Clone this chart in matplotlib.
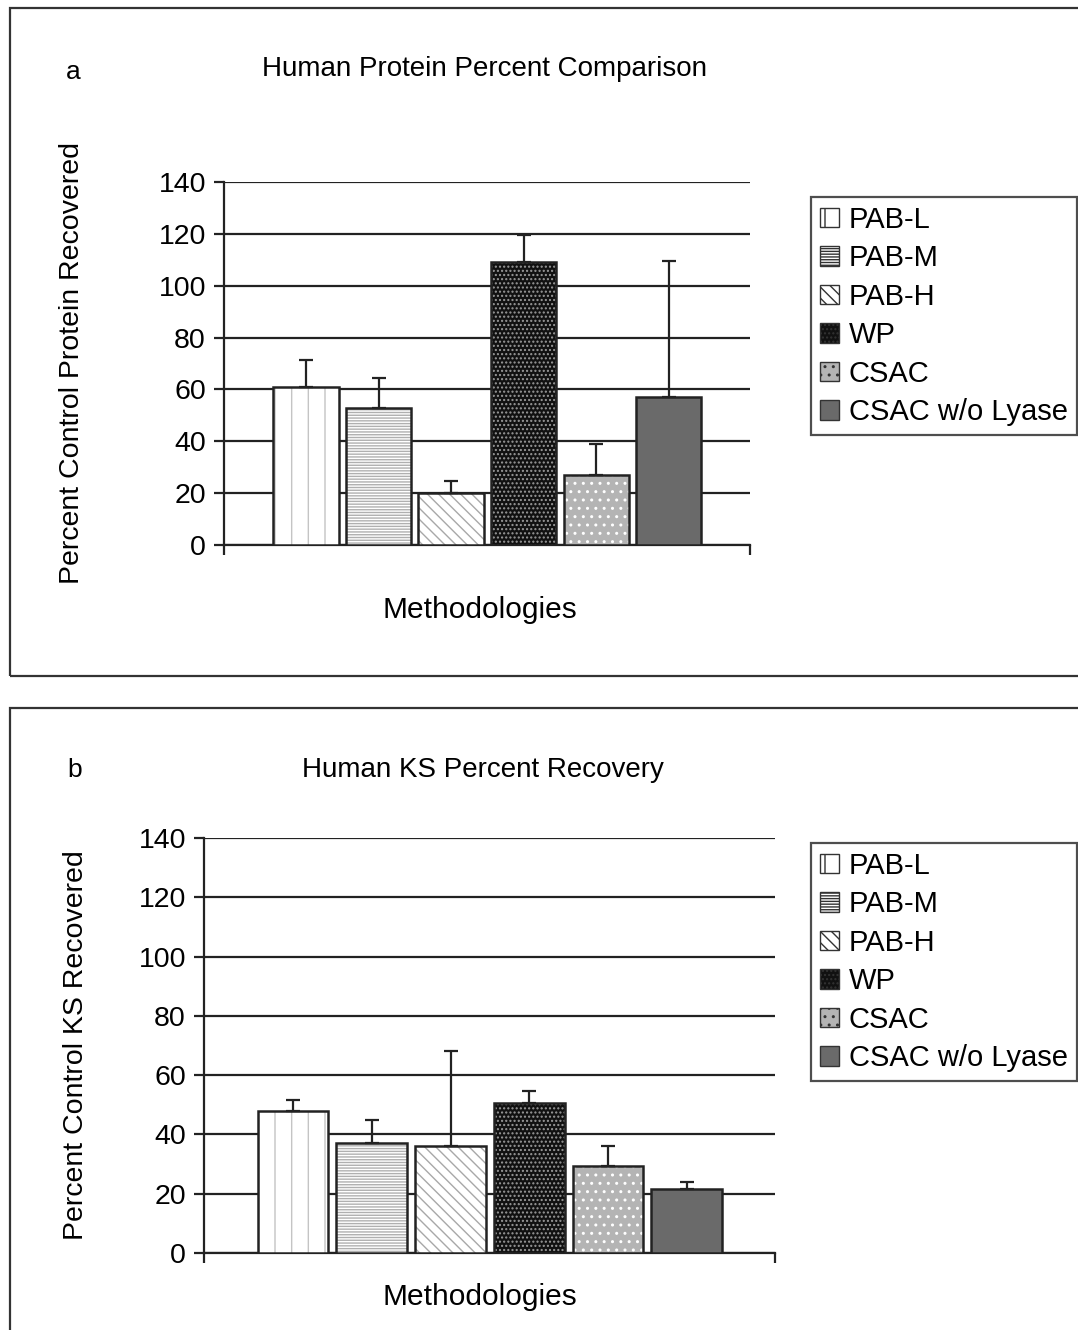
import matplotlib.pyplot as plt
from matplotlib.patches import Patch, Rectangle

plt.rcParams['font.family'] = ['Liberation Sans', 'DejaVu Sans']

# data
methods = ['PAB-L', 'PAB-M', 'PAB-H', 'WP', 'CSAC', 'CSAC w/o Lyase']
protein_pct = [61, 53, 20, 109, 27, 57]
protein_err = [10.5, 11.5, 4.5, 10.5, 12, 52.5]
ks_pct = [48, 37, 36, 50.5, 29.5, 21.5]
ks_err = [3.5, 8, 32, 4, 6.5, 2.5]

# fill colour, hatch, hatch colour per method
faces = ['white', 'white', 'white', '#111111', '#b4b4b4', '#6a6a6a']
hatches = ['|', '------', '\\\\\\', '....', '..', '']
hatch_cols = ['#c4c4c4', '#b0b0b0', '#a8a8a8', '#9a9a9a', 'white', '#6a6a6a']

W, H = 1078, 1330
fig = plt.figure(figsize=(W / 100, H / 100), dpi=100)


def box(x0, y0, x1, y1):
    return [x0 / W, 1 - y1 / H, (x1 - x0) / W, (y1 - y0) / H]


def panel(rect, vals, errs, title, ylabel, letter, title_xy, letter_xy, ylab_xy, xlab_xy, leg_xy):
    ax = fig.add_axes(box(*rect))
    x = list(range(len(vals)))
    # hatch layer then outline layer
    ax.bar(x, vals, width=0.9, color=faces, hatch=hatches, edgecolor=hatch_cols,
           linewidth=0, zorder=3)
    ax.bar(x, vals, width=0.9, fill=False, edgecolor='#222222', linewidth=1.8, zorder=4)
    ax.errorbar(x, vals, yerr=[[0] * len(vals), errs], fmt='none', ecolor='#222222',
                elinewidth=1.6, capsize=5, capthick=1.6, zorder=5)
    ax.set_ylim(0, 140)
    ax.set_xlim(-1.13, 6.12)
    ax.set_yticks(range(0, 141, 20))
    ax.yaxis.grid(True, color='#222222', linewidth=1.6, zorder=1)
    ax.set_axisbelow(True)
    for s in ['top', 'right']:
        ax.spines[s].set_visible(False)
    for s in ['left', 'bottom']:
        ax.spines[s].set_linewidth(1.6)
        ax.spines[s].set_color('#222222')
    ax.set_xticks([-1.13, 6.12])
    ax.set_xticklabels(['', ''])
    ax.tick_params(axis='both', length=7, width=1.6, color='#222222', labelsize=20.5)
    ax.tick_params(axis='y', pad=6)

    fig.text(title_xy[0] / W, 1 - title_xy[1] / H, title, fontsize=20,
             ha='center', va='center')
    fig.text(letter_xy[0] / W, 1 - letter_xy[1] / H, letter, fontsize=19,
             ha='center', va='center')
    fig.text(ylab_xy[0] / W, 1 - ylab_xy[1] / H, ylabel, fontsize=20.5,
             ha='center', va='center', rotation=90)
    fig.text(xlab_xy[0] / W, 1 - xlab_xy[1] / H, 'Methodologies', fontsize=21.5,
             ha='center', va='center')

    handles = [Patch(facecolor=f, hatch=h, edgecolor='#333333', linewidth=1)
               for f, h in zip(faces, hatches)]
    leg = fig.legend(handles, methods, loc='upper left',
                     bbox_to_anchor=(leg_xy[0] / W, 1 - leg_xy[1] / H),
                     fontsize=21, frameon=True, fancybox=False, handlelength=0.65,
                     handleheight=0.65, handletextpad=0.35, labelspacing=0.36,
                     borderpad=0.3, borderaxespad=0)
    leg.get_frame().set_edgecolor('#222222')
    leg.get_frame().set_linewidth(1.6)
    return ax


panel((224, 182, 750, 545), protein_pct, protein_err,
      'Human Protein Percent Comparison', 'Percent Control Protein Recovered', 'a',
      (484, 69), (73, 72), (72, 363), (480, 610), (811, 197))
panel((204, 838, 775, 1253), ks_pct, ks_err,
      'Human KS Percent Recovery', 'Percent Control KS Recovered', 'b',
      (483, 770), (75, 770), (76, 1045), (480, 1297), (811, 843))

# panel frames
for y0, y1 in [(8, 676), (708, 1340)]:
    fig.patches.append(Rectangle((10 / W, 1 - y1 / H), (W + 20) / W, (y1 - y0) / H,
                                 transform=fig.transFigure, fill=False,
                                 edgecolor='#333333', linewidth=1.6))

fig.savefig('out.png', dpi=100)
